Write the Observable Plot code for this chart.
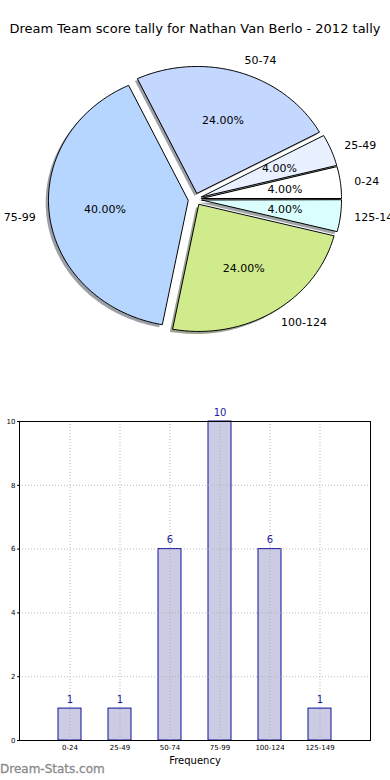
<!DOCTYPE html>
<html>
<head>
<meta charset="utf-8">
<script src="https://cdn.jsdelivr.net/npm/d3@7"></script>
<script src="https://cdn.jsdelivr.net/npm/@observablehq/plot@0.6"></script>
<style>
  html, body { margin: 0; padding: 0; background: #fff; }
  #wrap { position: relative; width: 390px; height: 780px; overflow: hidden; font-family: "DejaVu Sans", sans-serif; }
  #title { position: absolute; left: 0; top: 21px; width: 390px; text-align: center; font-size: 13px; color: #000; }
  #pie { position: absolute; left: 0; top: 0; }
  #bar { position: absolute; left: 0; top: 400px; }
  #wm { position: absolute; left: 0; top: 762px; font-size: 12px; font-weight: normal; color: #8a8a8a; -webkit-text-stroke: 0.3px #8a8a8a; }
  svg { overflow: visible; }
</style>
</head>
<body>
<div id="wrap">
  <div id="pie"></div>
  <div id="title">Dream Team score tally for Nathan Van Berlo - 2012 tally</div>
  <div id="bar"></div>
  <div id="wm">Dream-Stats.com</div>
</div>
<script>
// ---- data ----
const categories = ["0-24", "25-49", "50-74", "75-99", "100-124", "125-149"];
const counts = [1, 1, 6, 10, 6, 1];
const sliceColors = ["#ffffff", "#e9f0ff", "#c4d8ff", "#b6d6ff", "#d0eb8b", "#dafefe"];
const yTicks = [0, 2, 4, 6, 8, 10];

// ---- pie geometry (matplotlib-like: start at 0 rad, counterclockwise, explode 0.05) ----
const explode = 0.05;
const total = d3.sum(counts);
const slices = [];
let acc = 0;
categories.forEach((c, i) => {
  const a0 = acc / total * 2 * Math.PI;
  acc += counts[i];
  const a1 = acc / total * 2 * Math.PI;
  const mid = (a0 + a1) / 2;
  slices.push({cat: c, i, a0, a1, mid, ox: explode * Math.cos(mid), oy: explode * Math.sin(mid), frac: counts[i] / total});
});
function polygon(s, dx, dy) {
  const pts = [{cat: s.cat, x: s.ox + dx, y: s.oy + dy}];
  const n = Math.max(8, Math.ceil((s.a1 - s.a0) / (Math.PI / 180)));
  for (let k = 0; k <= n; k++) {
    const a = s.a0 + (s.a1 - s.a0) * k / n;
    pts.push({cat: s.cat, x: s.ox + dx + Math.cos(a), y: s.oy + dy + Math.sin(a)});
  }
  return pts;
}
const slicePts = slices.flatMap(s => polygon(s, 0, 0));
const shadowPts = slices.flatMap(s => polygon(s, -0.02, -0.02));
const outerLabels = slices.map(s => ({
  cat: s.cat,
  x: s.ox + 1.1 * Math.cos(s.mid),
  y: s.oy + 1.1 * Math.sin(s.mid),
  anchor: Math.cos(s.mid) >= 0 ? "start" : "end"
}));
const pctLabels = slices.map(s => ({
  text: (s.frac * 100).toFixed(2) + "%",
  x: s.ox + 0.6 * Math.cos(s.mid),
  y: s.oy + 0.6 * Math.sin(s.mid)
}));
const shadowColor = d3.scaleOrdinal(categories, sliceColors.map(c => {
  const r = d3.rgb(c); return d3.rgb(r.r * 0.3, r.g * 0.3, r.b * 0.3).toString();
}));

const cx = 194.5, cy = 198.8, rx = 139.6, ry = 126.8;
const pie = Plot.plot({
  width: 390, height: 390, margin: 0,
  style: {fontFamily: "DejaVu Sans, sans-serif", background: "transparent", overflow: "visible"},
  x: {domain: [-1, 1], range: [cx - rx, cx + rx], axis: null},
  y: {domain: [-1, 1], range: [cy + ry, cy - ry], axis: null},
  color: {type: "ordinal", domain: categories, range: sliceColors},
  marks: [
    ...slices.map(s => Plot.line(shadowPts.filter(p => p.cat === s.cat), {
      x: "x", y: "y", curve: "linear-closed", fill: shadowColor(s.cat), fillOpacity: 0.5, stroke: "none"
    })),
    Plot.line(slicePts, {x: "x", y: "y", z: "cat", fill: "cat", stroke: "#000", strokeWidth: 1, curve: "linear-closed", strokeLinejoin: "miter"}),
    Plot.text(outerLabels.filter(d => d.anchor === "start"), {x: "x", y: "y", text: "cat", textAnchor: "start", fontSize: 11, fill: "#000"}),
    Plot.text(outerLabels.filter(d => d.anchor === "end"), {x: "x", y: "y", text: "cat", textAnchor: "end", fontSize: 11, fill: "#000"}),
    Plot.text(pctLabels, {x: "x", y: "y", text: "text", fontSize: 11, fill: "#000"})
  ]
});
document.getElementById("pie").appendChild(pie);

// ---- bar chart ----
const barData = categories.map((c, i) => ({cat: c, count: counts[i]}));
const bar = Plot.plot({
  width: 390, height: 380,
  marginLeft: 19, marginRight: 20, marginTop: 21, marginBottom: 40,
  style: {fontFamily: "DejaVu Sans, sans-serif", background: "transparent", overflow: "visible"},
  x: {type: "band", domain: categories, paddingInner: 0.54, paddingOuter: 0.78, align: 0.5},
  y: {domain: [0, 10]},
  marks: [
    Plot.barY(barData, {x: "cat", y: "count", fill: "#cbcce4", stroke: "#10109a", strokeWidth: 1}),
    Plot.gridX({stroke: "#aaa", strokeOpacity: 0.8, strokeDasharray: "1,2", strokeWidth: 1}),
    Plot.gridY(yTicks.slice(1, -1), {stroke: "#aaa", strokeOpacity: 0.8, strokeDasharray: "1,2", strokeWidth: 1}),
    Plot.frame({stroke: "#000", strokeWidth: 1}),
    Plot.axisY(yTicks, {tickSize: 2, tickPadding: 2, fontSize: 7, label: "Number of Games", labelAnchor: "center", labelOffset: 28, fill: "#000"}),
    Plot.axisX({tickSize: 0, tickPadding: 5, fontSize: 7, label: "Frequency", labelAnchor: "center", labelOffset: 23, fill: "#000"}),
    Plot.text(barData, {x: "cat", y: "count", text: d => String(d.count), dy: -9, fontSize: 10, fill: "#1c1c9c"})
  ]
});
bar.querySelectorAll("g[aria-label='x-axis label'] text, g[aria-label='y-axis label'] text").forEach(t => t.setAttribute("font-size", 10));
document.getElementById("bar").appendChild(bar);
</script>
</body>
</html>
